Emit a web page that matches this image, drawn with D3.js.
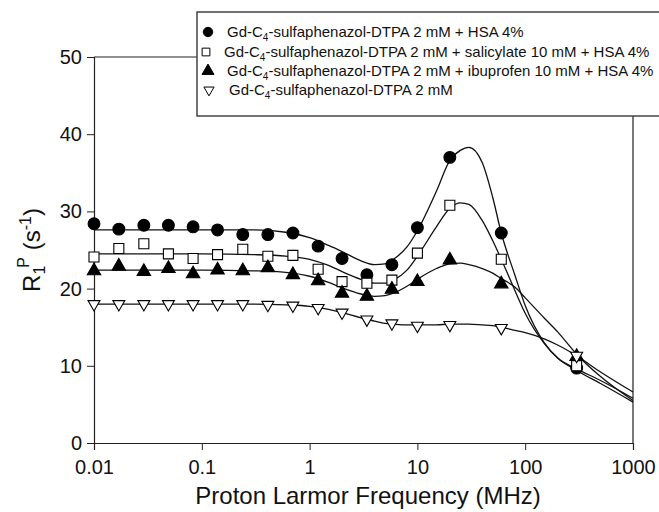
<!DOCTYPE html>
<html><head><meta charset="utf-8">
<script src="https://cdn.jsdelivr.net/npm/d3@7"></script>
<style>body{margin:0;background:#fff}svg{display:block;font-family:"Liberation Sans",Arial,sans-serif}</style>
</head><body><svg id="c" width="659" height="512"></svg>
<script>
const freq = [0.01, 0.017, 0.029, 0.049, 0.083, 0.14, 0.24, 0.41, 0.70, 1.2, 2.0, 3.4, 5.8, 10, 20, 60, 300];
const hsa = [28.4, 27.7, 28.2, 28.2, 28.0, 27.6, 27.0, 27.0, 27.2, 25.5, 23.9, 21.8, 23.1, 27.9, 37.0, 27.2, 9.7];
const salicylate = [24.1, 25.2, 25.8, 24.5, 23.9, 24.4, 25.1, 24.2, 24.3, 22.5, 20.9, 20.7, 21.1, 24.6, 30.8, 23.8, 10.0];
const ibuprofen = [22.3, 22.9, 22.2, 22.6, 21.9, 22.4, 22.3, 22.7, 21.8, 21.0, 19.4, 19.0, 19.9, 20.9, 23.7, 20.6, 11.2];
const free = [18.0, 18.0, 18.0, 18.0, 18.0, 18.0, 18.0, 17.9, 17.8, 17.5, 16.9, 16.0, 15.5, 15.2, 15.3, 14.9, 11.3];

const fitFreq = [0.01, 0.1, 0.3, 0.6, 1, 1.5, 2, 3, 4, 5, 6, 8, 10, 15, 20, 25, 30, 40, 50, 60, 80, 100, 150, 200, 300, 500, 1000];
const hsaFit = [27.6, 27.6, 27.6, 27.3, 26.6, 25.6, 24.8, 23.6, 23.1, 23.2, 23.8, 25.4, 27.5, 32.6, 36.6, 37.9, 38.3, 36.3, 31.8, 27.2, 21.8, 17.8, 13.0, 11.0, 9.4, 7.7, 5.3];
const salicylateFit = [24.5, 24.5, 24.4, 24.2, 23.8, 23.0, 22.2, 21.2, 20.7, 20.7, 21.1, 22.4, 24.2, 28.0, 30.4, 31.1, 30.9, 28.8, 26.2, 23.8, 19.8, 16.8, 12.9, 11.0, 9.6, 8.1, 5.8];
const ibuprofenFit = [22.4, 22.4, 22.3, 22.1, 21.6, 20.8, 20.1, 19.3, 19.0, 19.1, 19.4, 20.3, 21.2, 22.6, 23.2, 23.3, 23.1, 22.6, 22.0, 21.3, 20.2, 18.8, 16.2, 14.4, 11.5, 8.6, 5.5];
const freeFit = [18.0, 18.0, 18.0, 17.9, 17.7, 17.3, 16.9, 16.2, 15.8, 15.5, 15.4, 15.3, 15.3, 15.3, 15.4, 15.4, 15.4, 15.3, 15.2, 15.0, 14.6, 14.3, 13.5, 12.7, 11.3, 9.2, 6.6];

const xTicks = [0.01, 0.1, 1, 10, 100, 1000];
const xTickLabels = ["0.01", "0.1", "1", "10", "100", "1000"];
const yTicks = [0, 10, 20, 30, 40, 50];
const legendPrefix = "Gd-C";
const legendSub = "4";
const legendSuffixes = ["-sulfaphenazol-DTPA 2 mM + HSA 4%",
  "-sulfaphenazol-DTPA 2 mM + salicylate 10 mM + HSA 4%",
  "-sulfaphenazol-DTPA 2 mM + ibuprofen 10 mM + HSA 4%",
  "-sulfaphenazol-DTPA 2 mM"];

const svg = d3.select("#c");
const x = d3.scaleLog().domain([0.01, 1000]).range([94, 633]);
const y = d3.scaleLinear().domain([0, 50]).range([443, 57]);

// minor ticks
const xMinor = [];
for (let d = 0.01; d < 1000; d *= 10) for (let k = 2; k <= 9; k++) xMinor.push(+(d * k).toPrecision(3));
const yMinor = d3.range(0, 51, 2).filter(v => v % 10 !== 0);

const gx = svg.append("g").attr("transform", "translate(0,443)");
gx.call(d3.axisBottom(x).tickValues(xMinor).tickSize(4).tickFormat(""));
gx.call(d3.axisBottom(x).tickValues(xTicks).tickSize(7).tickPadding(10).tickFormat((d, i) => xTickLabels[i]));
const gy = svg.append("g").attr("transform", "translate(94,0)");
gy.call(d3.axisLeft(y).tickValues(yMinor).tickSize(4).tickFormat(""));
gy.call(d3.axisLeft(y).tickValues(yTicks).tickSize(7).tickPadding(5).tickFormat(d3.format("d")));
svg.selectAll(".domain").attr("stroke", "#222").attr("stroke-width", 1.2);
svg.selectAll(".tick line").attr("stroke", "#222").attr("stroke-width", 1);
svg.selectAll(".tick text").attr("font-size", 20).attr("fill", "#111").attr("font-family", "Liberation Sans, Arial, sans-serif");

// frame
svg.append("path").attr("d", `M${x(0.01)},${y(50)}H${x(1000)}V${y(0)}`).attr("fill", "none").attr("stroke", "#222").attr("stroke-width", 1.2);

// fits
const series = [
  {pts: hsa, fit: hsaFit, sym: d3.symbolCircle, size: 110, fill: "#000"},
  {pts: salicylate, fit: salicylateFit, sym: d3.symbolSquare, size: 100, fill: "#fff"},
  {pts: ibuprofen, fit: ibuprofenFit, sym: d3.symbolTriangle, size: 78, fill: "#000"},
  {pts: free, fit: freeFit, sym: d3.symbolTriangle, size: 62, fill: "#fff", inv: true}
];
const line = d3.line().x((d, i) => x(fitFreq[i])).y(d => y(d)).curve(d3.curveMonotoneX);
series.forEach(s => {
  svg.append("path").datum(s.fit).attr("d", line).attr("fill", "none").attr("stroke", "#111").attr("stroke-width", 1.3);
});
series.forEach(s => {
  svg.append("g").selectAll("path").data(s.pts).join("path")
    .attr("d", d3.symbol(s.sym, s.size))
    .attr("transform", (d, i) => `translate(${x(freq[i])},${y(d)})${s.inv ? " rotate(180)" : ""}`)
    .attr("fill", s.fill).attr("stroke", "#000").attr("stroke-width", 1.1);
});

// axis titles
svg.append("text").attr("x", 368).attr("y", 504).attr("text-anchor", "middle").attr("font-size", 24).attr("fill", "#111")
  .text("Proton Larmor Frequency (MHz)");
const yt = svg.append("text").attr("transform", "translate(40,250) rotate(-90)").attr("text-anchor", "middle").attr("font-size", 24).attr("fill", "#111");
yt.append("tspan").text("R");
yt.append("tspan").attr("font-size", 16).attr("dy", 5).text("1");
yt.append("tspan").attr("font-size", 16).attr("dy", -16).attr("dx", -2).text("P");
yt.append("tspan").attr("dy", 11).text(" (s");
yt.append("tspan").attr("font-size", 16).attr("dy", -9).text("-1");
yt.append("tspan").attr("dy", 9).text(")");

// legend
const lg = svg.append("g");
lg.append("rect").attr("x", 197).attr("y", 12).attr("width", 480).attr("height", 104)
  .attr("fill", "#fff").attr("stroke", "#444").attr("stroke-width", 1.5);
const rowY = [32, 52, 71, 90];
const symX = [208, 206, 208, 209];
const txtX = [227, 224, 227, 229];
const legSizes = [70, 60, 62, 45];
series.forEach((s, i) => {
  lg.append("path").attr("d", d3.symbol(s.sym, legSizes[i]))
    .attr("transform", `translate(${symX[i]},${rowY[i]})${s.inv ? " rotate(180)" : ""}`)
    .attr("fill", s.fill).attr("stroke", "#000").attr("stroke-width", 1);
  const t = lg.append("text").attr("x", txtX[i]).attr("y", rowY[i] + 5).attr("font-size", 15).attr("fill", "#111");
  t.append("tspan").text(legendPrefix);
  t.append("tspan").attr("font-size", 10).attr("dy", 4).text(legendSub);
  t.append("tspan").attr("dy", -4).text(legendSuffixes[i]);
});
</script></body></html>
